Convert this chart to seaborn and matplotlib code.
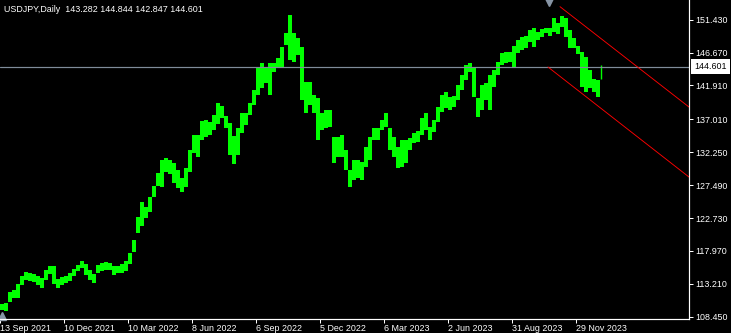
import numpy as np
import pandas as pd
import matplotlib
matplotlib.use("Agg")
import matplotlib.pyplot as plt
import matplotlib.transforms as mtransforms
import seaborn as sns

# ---------------- data ----------------
symbol = "USDJPY,Daily"
last_ohlc = [143.282, 144.844, 142.847, 144.601]   # open, high, low, close of last bar
group_days = 4                                      # each high/low pair spans 4 daily bars

highs = [110.3, 110.4, 112.0, 112.3, 113.2, 114.3, 114.9, 114.8, 114.6, 114.3,
         114.0, 115.2, 115.8, 115.8, 113.9, 114.2, 114.3, 114.8, 115.4, 116.0,
         116.5, 116.1, 115.2, 114.6, 116.0, 116.2, 116.4, 116.2, 115.8, 115.8,
         116.1, 116.5, 117.7, 119.6, 122.9, 125.0, 124.3, 125.8, 127.4, 129.2,
         131.1, 131.4, 131.1, 130.7, 129.7, 128.5, 130.0, 132.6, 134.7, 134.7,
         136.8, 136.9, 136.6, 137.6, 139.4, 138.9, 137.5, 136.5, 134.6, 135.7,
         137.9, 137.9, 139.4, 141.3, 144.6, 145.2, 144.6, 145.2, 145.2, 145.9,
         147.5, 149.5, 152.1, 149.5, 148.8, 147.5, 142.4, 142.4, 140.5, 140.1,
         137.9, 138.4, 138.4, 134.5, 134.5, 134.8, 132.6, 129.7, 131.1, 131.1,
         130.8, 133.0, 134.5, 135.8, 135.8, 136.9, 137.9, 135.8, 134.5, 133.0,
         134.0, 134.0, 134.3, 135.0, 135.3, 137.2, 137.9, 135.9, 136.9, 138.8,
         140.5, 141.0, 140.2, 140.4, 142.0, 143.4, 144.9, 145.2, 144.6, 140.1,
         142.0, 142.3, 143.4, 144.1, 145.3, 146.6, 146.8, 146.8, 147.6, 148.5,
         148.9, 149.1, 149.9, 150.2, 149.6, 150.1, 150.2, 150.2, 151.7, 150.9,
         152.0, 151.7, 149.9, 148.8, 147.6, 146.8, 146.0, 144.1, 142.9, 142.7]

lows = [109.4, 109.3, 110.6, 111.2, 111.2, 113.0, 113.8, 113.6, 113.5, 113.0,
        112.6, 113.8, 114.6, 113.2, 112.6, 113.0, 113.3, 113.6, 114.3, 115.0,
        115.5, 114.5, 113.8, 113.3, 114.8, 115.0, 115.2, 115.2, 114.5, 114.8,
        114.8, 115.1, 116.1, 117.8, 120.6, 121.6, 122.7, 123.6, 125.8, 127.4,
        127.2, 129.4, 129.1, 127.8, 127.1, 126.5, 127.2, 129.4, 132.1, 131.5,
        134.0, 134.5, 134.7, 135.5, 136.4, 137.2, 135.8, 131.8, 130.5, 131.8,
        135.0, 136.2, 137.6, 139.1, 140.5, 141.6, 142.3, 140.5, 143.9, 144.4,
        144.6, 147.8, 145.6, 145.3, 146.3, 139.8, 137.9, 139.1, 137.9, 134.0,
        135.5, 135.8, 135.9, 130.7, 131.6, 131.6, 129.7, 127.2, 128.2, 128.5,
        128.2, 130.1, 131.1, 134.0, 134.0, 135.5, 135.9, 132.6, 131.6, 130.0,
        130.1, 130.7, 132.6, 133.6, 133.7, 134.7, 135.5, 134.0, 135.2, 136.6,
        138.1, 138.6, 138.4, 138.8, 139.8, 141.3, 142.7, 143.9, 140.3, 137.3,
        138.4, 139.8, 138.4, 141.7, 143.4, 144.9, 145.2, 145.3, 144.6, 146.6,
        147.0, 147.3, 148.2, 147.5, 148.5, 148.9, 149.5, 149.1, 149.6, 149.3,
        150.4, 148.9, 147.3, 147.3, 146.5, 141.7, 141.0, 141.6, 141.0, 140.2]

date_ticks = [0, 64, 128, 192, 256, 320, 384, 448, 512, 576]
date_labels = ["13 Sep 2021", "10 Dec 2021", "10 Mar 2022", "8 Jun 2022", "6 Sep 2022",
               "5 Dec 2022", "6 Mar 2023", "2 Jun 2023", "31 Aug 2023", "29 Nov 2023"]
price_ticks = [108.450, 113.210, 117.970, 122.730, 127.490,
               132.250, 137.010, 141.910, 146.670, 151.430]

channel_upper_x = [560, 689]
channel_upper_y = [153.31, 138.79]
channel_lower_x = [548, 689]
channel_lower_y = [144.58, 128.66]

# ---------------- style ----------------
sns.set_theme(style="dark", rc={"axes.facecolor": "black", "figure.facecolor": "black"})
plt.rcParams['font.family'] = ['Liberation Sans', 'DejaVu Sans']

W, H = 731, 333
fig = plt.figure(figsize=(W / 100, H / 100), dpi=100)
ax = fig.add_axes([0, 14 / H, 689 / W, 319 / H])
ax.set_facecolor("black")
ax.grid(False)

px = 72 / 100  # one pixel in points
fs = 6.4

# ---------------- bars ----------------
df = pd.DataFrame({"x": np.arange(len(highs)) * group_days,
                   "high": highs, "low": lows})
ax.bar(df["x"], df["high"] - df["low"], bottom=df["low"], width=group_days,
       align="edge", color="#00ff00", linewidth=0)
last_x = len(highs) * group_days + 0.5
ax.vlines(last_x, last_ohlc[2], last_ohlc[1], color="#00ff00", lw=1.4 * px)

# current price line
ax.axhline(last_ohlc[3], color="#7f8c9a", lw=1.2 * px)

# channel lines
sns.lineplot(x=channel_upper_x, y=channel_upper_y, color="#ff0000", lw=0.9 * px, ax=ax)
sns.lineplot(x=channel_lower_x, y=channel_lower_y, color="#ff0000", lw=0.9 * px, ax=ax)

ymin = 108.45 + (316.7 - 319) * 0.1447
ymax = 108.45 + 316.7 * 0.1447
ax.set_xlim(0, 689)
ax.set_ylim(ymin, ymax)

# markers (gray triangles)
ax.plot([549], [ymax - 2 * 0.1447], marker="v", markersize=7 * px * 1.2,
        color="#8795a5", clip_on=False, linestyle="none")
ax.plot([1.5], [ymin + 3 * 0.1447], marker="^", markersize=6 * px * 1.2,
        color="#8795a5", clip_on=False, linestyle="none")

# ---------------- axes ----------------
for s in ["left", "top"]:
    ax.spines[s].set_visible(False)
for s in ["right", "bottom"]:
    ax.spines[s].set_visible(True)
    ax.spines[s].set_color("white")
    ax.spines[s].set_linewidth(1.2 * px)

ax.yaxis.tick_right()
ax.set_yticks(price_ticks)
ax.set_yticklabels([f"{v:.3f}" for v in price_ticks])
ax.set_xticks(date_ticks)
ax.set_xticklabels(date_labels)
for lbl in ax.get_xticklabels():
    lbl.set_horizontalalignment("left")
ax.tick_params(axis="y", right=True, left=False, colors="white", length=4 * px,
               width=1 * px, labelsize=fs, pad=2 * px, labelcolor="white")
ax.tick_params(axis="x", bottom=True, colors="white", length=4 * px,
               width=1 * px, labelsize=fs, pad=1 * px, labelcolor="white")

# current price label on the axis
trans = mtransforms.blended_transform_factory(ax.transAxes, ax.transData)
ax.text(1 + 5 / 689, last_ohlc[3], f"{last_ohlc[3]:.3f}", transform=trans,
        fontsize=fs, color="black", va="center", ha="left",
        bbox=dict(facecolor="white", edgecolor="none", pad=2.2))

# header text
fig.text(4 / W, 1 - 9 / H,
         f"{symbol}  {last_ohlc[0]:.3f} {last_ohlc[1]:.3f} {last_ohlc[2]:.3f} {last_ohlc[3]:.3f}",
         color="white", fontsize=fs, va="center", ha="left")

fig.savefig("out.png", dpi=100, facecolor="black")
